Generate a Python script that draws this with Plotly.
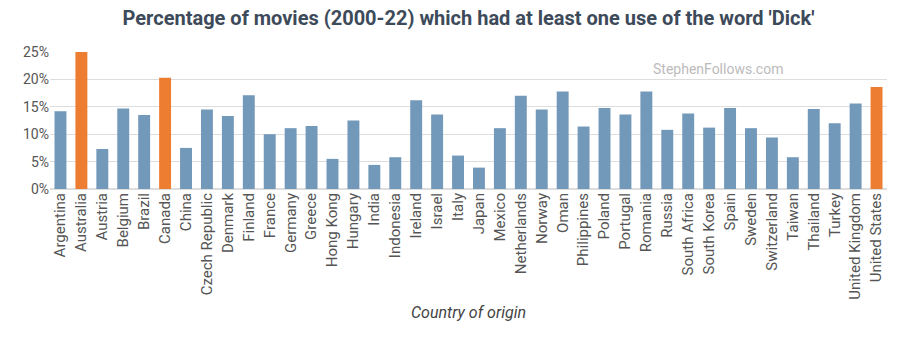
import plotly.graph_objects as go

countries = ["Argentina", "Australia", "Austria", "Belgium", "Brazil", "Canada", "China",
             "Czech Republic", "Denmark", "Finland", "France", "Germany", "Greece", "Hong Kong",
             "Hungary", "India", "Indonesia", "Ireland", "Israel", "Italy", "Japan", "Mexico",
             "Netherlands", "Norway", "Oman", "Philippines", "Poland", "Portugal", "Romania",
             "Russia", "South Africa", "South Korea", "Spain", "Sweden", "Switzerland", "Taiwan",
             "Thailand", "Turkey", "United Kingdom", "United States"]
values = [14.2, 25.0, 7.3, 14.7, 13.5, 20.3, 7.5, 14.5, 13.3, 17.1, 10.0, 11.1, 11.5, 5.5,
          12.5, 4.4, 5.8, 16.2, 13.6, 6.1, 3.9, 11.1, 17.0, 14.5, 17.8, 11.4, 14.8, 13.6, 17.8,
          10.8, 13.8, 11.2, 14.8, 11.1, 9.4, 5.8, 14.6, 12.0, 15.6, 18.6]
highlight = ["Australia", "Canada", "United States"]
y_ticks = [0, 5, 10, 15, 20, 25]
y_tick_labels = ["0%", "5%", "10%", "15%", "20%", "25%"]

colors = ["#ED7D31" if c in highlight else "#7399BA" for c in countries]

fig = go.Figure(go.Bar(x=countries, y=values, marker_color=colors, marker_line_width=0))

fig.update_layout(
    width=900, height=342,
    margin=dict(l=50, r=13, t=52, b=153),
    paper_bgcolor="white", plot_bgcolor="white",
    bargap=0.43,
    showlegend=False,
    font=dict(family="Roboto", color="#555555"),
    title=dict(text="<b>Percentage of movies (2000-22) which had at least one use of the word 'Dick'</b>",
               x=0.5, xanchor="center", xref="paper", y=0.948, yanchor="middle",
               font=dict(family="Roboto", size=20, color="#3D4A5A")),
    xaxis=dict(tickangle=-90, tickfont=dict(size=15, color="#555555"), showgrid=False,
               title=dict(text="<i>Country of origin</i>", font=dict(size=16, color="#444444"), standoff=8),
               showline=False, ticks=""),
    yaxis=dict(range=[0, 25], tickmode="array", tickvals=y_ticks, ticktext=y_tick_labels,
               tickfont=dict(size=14, color="#555555"), gridcolor="#DDDDDD", gridwidth=1,
               zeroline=True, zerolinecolor="#DDDDDD", showline=False, ticks=""),
    annotations=[dict(text="StephenFollows.com", xref="paper", yref="paper", x=0.798, y=0.876,
                      xanchor="center", yanchor="middle", showarrow=False,
                      font=dict(family="Roboto", size=14, color="#BBBBBB"))],
)

fig.write_html("out.html")
